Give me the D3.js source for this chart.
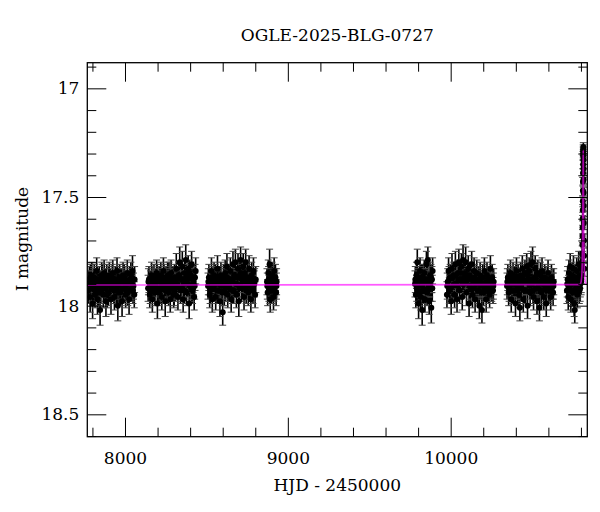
<!DOCTYPE html>
<html lang="en">
<head>
<meta charset="utf-8">
<script src="https://d3js.org/d3.v7.min.js"></script>
<style>
  body { margin: 0; background: #fff; }
  text { font-family: "DejaVu Serif", serif; fill: #000; }
</style>
</head>
<body>
<svg id="chart" width="600" height="512"></svg>
<script>
// photometry, one array per season: [HJD - 2450000, I mag, error]
const season2017 = [[7775,17.93,.06],[7781,17.88,.06],[7786,17.96,.07],[7790,17.90,.06],[7796,17.86,.06],[7801,17.99,.07],[7805,17.92,.06],[7811,17.87,.06],[7816,17.95,.06],[7820,17.89,.06],[7826,17.84,.06],[7831,17.97,.07],[7836,17.91,.06],[7842,17.88,.06],[7847,18.02,.07],[7852,17.93,.06],[7857,17.86,.06],[7862,17.90,.06],[7867,17.95,.06],[7872,17.85,.06],[7878,17.92,.06],[7883,17.98,.07],[7888,17.87,.06],[7893,17.91,.06],[7899,17.94,.06],[7904,17.86,.06],[7909,17.89,.06],[7914,17.97,.07],[7919,17.92,.06],[7925,17.85,.06],[7930,17.90,.06],[7935,17.96,.06],[7940,17.88,.06],[7946,17.93,.06],[7951,17.84,.06],[7956,18.00,.07],[7961,17.91,.06],[7967,17.87,.06],[7972,17.94,.06],[7977,17.89,.06],[7982,17.98,.07],[7988,17.86,.06],[7993,17.92,.06],[7998,17.88,.06],[8004,17.95,.06],[8009,17.90,.06],[8014,17.85,.06],[8020,17.93,.06],[8025,17.97,.07],[8030,17.89,.06],[8036,17.86,.06],[8041,17.92,.06],[8046,17.84,.07],[8052,17.91,.06],[8057,17.95,.06],
  [7778,17.90,.06],[7788,17.87,.06],[7798,17.92,.06],[7808,17.89,.06],[7818,17.93,.06],[7829,17.88,.06],[7839,17.94,.06],[7849,17.90,.06],[7860,17.87,.06],[7870,17.92,.06],[7880,17.89,.06],[7891,17.95,.06],[7901,17.88,.06],[7912,17.91,.06],[7922,17.87,.06],[7932,17.93,.06],[7943,17.90,.06],[7953,17.88,.06],[7964,17.94,.06],[7974,17.89,.06],[7985,17.92,.06],[7995,17.87,.06],[8006,17.91,.06],[8017,17.94,.06],[8028,17.88,.06],[8038,17.90,.06],[8049,17.93,.06],[8059,17.88,.06]]
const season2018 = [[8142,17.92,.06],[8147,17.88,.06],[8152,17.95,.06],[8157,17.90,.06],[8163,17.86,.06],[8168,17.97,.06],[8173,17.91,.06],[8178,17.87,.06],[8184,17.94,.06],[8189,17.89,.06],[8194,17.85,.06],[8199,17.99,.07],[8205,17.92,.06],[8210,17.88,.06],[8215,17.93,.06],[8220,17.86,.06],[8226,17.96,.06],[8231,17.90,.06],[8236,17.84,.06],[8241,17.92,.06],[8247,17.98,.07],[8252,17.88,.06],[8257,17.91,.06],[8262,17.86,.06],[8268,17.94,.06],[8273,17.89,.06],[8278,17.97,.06],[8283,17.85,.06],[8289,17.91,.06],[8294,17.88,.06],[8299,17.95,.06],[8304,17.87,.06],[8310,17.92,.06],[8315,17.83,.07],[8320,17.90,.06],[8325,17.96,.06],[8331,17.86,.06],[8336,17.80,.07],[8341,17.93,.06],[8346,17.88,.06],[8352,17.82,.07],[8357,17.97,.06],[8362,17.90,.06],[8367,17.85,.06],[8373,17.79,.07],[8378,17.94,.06],[8383,17.88,.06],[8388,17.83,.06],[8394,17.99,.07],[8399,17.91,.06],[8404,17.86,.06],[8409,17.81,.06],[8415,17.93,.06],[8420,17.89,.06],[8425,17.96,.06],[8430,17.87,.06],[8434,17.84,.06],
  [8144,17.89,.06],[8155,17.93,.06],[8165,17.88,.06],[8176,17.92,.06],[8186,17.90,.06],[8197,17.87,.06],[8207,17.94,.06],[8218,17.89,.06],[8228,17.91,.06],[8239,17.87,.06],[8249,17.93,.06],[8260,17.90,.06],[8270,17.86,.06],[8281,17.92,.06],[8291,17.89,.06],[8302,17.94,.06],[8312,17.88,.06],[8323,17.91,.06],[8333,17.86,.06],[8344,17.92,.06],[8354,17.88,.06],[8365,17.93,.06],[8375,17.87,.06],[8386,17.90,.06],[8396,17.85,.06],[8407,17.92,.06],[8417,17.88,.06],[8428,17.91,.06]]
const season2019 = [[8510,17.91,.06],[8515,17.87,.06],[8520,17.95,.06],[8526,17.89,.06],[8531,17.84,.06],[8536,17.97,.06],[8541,17.92,.06],[8547,17.86,.06],[8552,17.90,.06],[8557,17.96,.06],[8562,17.88,.06],[8568,17.83,.06],[8573,17.93,.06],[8578,17.89,.06],[8583,17.98,.07],[8589,17.86,.06],[8594,17.91,.06],[8600,18.03,.06],[8605,17.87,.06],[8610,17.94,.06],[8615,17.85,.06],[8621,17.90,.06],[8626,17.82,.06],[8631,17.95,.06],[8636,17.88,.06],[8642,17.92,.06],[8647,17.84,.06],[8652,17.97,.06],[8657,17.89,.06],[8663,17.81,.06],[8668,17.93,.06],[8673,17.87,.06],[8678,17.80,.06],[8684,17.95,.06],[8689,17.90,.06],[8694,17.83,.07],[8699,17.98,.07],[8705,17.86,.06],[8710,17.79,.06],[8715,17.92,.06],[8720,17.88,.06],[8726,17.82,.06],[8731,17.96,.06],[8736,17.85,.06],[8741,17.80,.06],[8747,17.91,.06],[8752,17.87,.06],[8757,17.94,.06],[8762,17.83,.06],[8768,17.89,.06],[8773,17.97,.06],[8778,17.86,.06],[8783,17.92,.06],[8789,17.84,.06],[8794,17.90,.06],[8799,17.95,.06],[8803,17.88,.06],
  [8512,17.89,.06],[8523,17.93,.06],[8533,17.88,.06],[8544,17.91,.06],[8554,17.87,.06],[8565,17.93,.06],[8575,17.90,.06],[8586,17.88,.06],[8597,17.94,.06],[8607,17.89,.06],[8618,17.92,.06],[8628,17.87,.06],[8639,17.91,.06],[8649,17.88,.06],[8660,17.93,.06],[8670,17.86,.06],[8681,17.90,.06],[8691,17.87,.06],[8702,17.92,.06],[8712,17.85,.06],[8723,17.90,.06],[8733,17.87,.06],[8744,17.93,.06],[8754,17.89,.06],[8765,17.91,.06],[8775,17.88,.06],[8786,17.93,.06],[8796,17.89,.06]]
const season2020 = [[8872,17.89,.06],[8876,17.94,.06],[8880,17.85,.06],[8884,17.92,.06],[8888,17.81,.07],[8892,17.97,.06],[8896,17.88,.06],[8900,17.93,.06],[8904,17.86,.06],[8908,17.91,.06],[8912,17.96,.06],[8916,17.84,.06],[8920,17.90,.06],[8924,17.87,.06],[8928,17.94,.06],[8931,17.89,.06],
  [8874,17.91,.06],[8882,17.88,.06],[8890,17.93,.06],[8898,17.90,.06],[8906,17.87,.06],[8914,17.92,.06],[8922,17.89,.06],[8930,17.91,.06]]
const season2022 = [[9781,17.90,.06],[9786,17.95,.06],[9790,17.86,.06],[9795,17.80,.06],[9799,17.93,.06],[9803,17.99,.07],[9808,17.88,.06],[9812,17.84,.06],[9816,17.96,.06],[9821,17.91,.06],[9825,18.02,.07],[9829,17.87,.06],[9834,17.93,.06],[9838,17.85,.06],[9842,17.97,.06],[9847,17.89,.06],[9851,17.81,.06],[9855,17.94,.06],[9860,17.79,.06],[9864,17.90,.06],[9868,17.98,.06],[9873,17.86,.06],[9877,17.92,.06],[9881,18.01,.07],[9885,17.88,.06],[9889,17.84,.06],
  [9783,17.88,.06],[9792,17.92,.06],[9801,17.89,.06],[9810,17.94,.06],[9819,17.87,.06],[9827,17.91,.06],[9836,17.89,.06],[9845,17.93,.06],[9853,17.88,.06],[9862,17.92,.06],[9871,17.90,.06],[9879,17.87,.06],[9887,17.92,.06]]
const season2023 = [[9977,17.95,.06],[9982,17.89,.06],[9987,17.84,.06],[9992,17.93,.06],[9997,17.87,.06],[10003,17.98,.06],[10008,17.83,.07],[10013,17.91,.06],[10018,17.86,.06],[10024,17.95,.06],[10029,17.81,.06],[10034,17.90,.06],[10039,17.97,.06],[10045,17.85,.06],[10050,17.80,.06],[10055,17.93,.06],[10060,17.88,.06],[10066,17.82,.06],[10071,17.96,.06],[10076,17.79,.07],[10081,17.90,.06],[10087,17.85,.06],[10092,17.80,.07],[10097,17.94,.06],[10102,17.88,.06],[10108,17.83,.06],[10113,17.99,.06],[10118,17.86,.06],[10123,17.92,.06],[10129,17.81,.06],[10134,17.95,.06],[10139,17.89,.06],[10144,17.84,.06],[10150,17.97,.06],[10155,17.90,.06],[10160,17.85,.06],[10165,17.93,.06],[10171,17.88,.06],[10176,18.00,.06],[10181,17.86,.06],[10186,17.91,.06],[10192,18.02,.06],[10197,17.87,.06],[10202,17.94,.06],[10207,17.84,.06],[10213,17.90,.06],[10218,17.97,.06],[10223,17.86,.06],[10228,17.92,.06],[10234,17.88,.06],[10239,17.95,.06],[10244,17.83,.06],[10249,17.91,.06],[10255,17.87,.06],[10260,17.93,.06],[10264,17.89,.06],
  [9979,17.91,.06],[9990,17.88,.06],[10000,17.92,.06],[10011,17.87,.06],[10021,17.90,.06],[10032,17.86,.06],[10042,17.91,.06],[10053,17.88,.06],[10063,17.85,.06],[10074,17.90,.06],[10084,17.87,.06],[10095,17.89,.06],[10105,17.86,.06],[10116,17.91,.06],[10126,17.88,.06],[10137,17.92,.06],[10147,17.87,.06],[10158,17.90,.06],[10168,17.93,.06],[10179,17.89,.06],[10189,17.94,.06],[10200,17.90,.06],[10210,17.92,.06],[10221,17.89,.06],[10231,17.93,.06],[10242,17.90,.06],[10252,17.92,.06],[10262,17.91,.06]]
const season2024 = [[10346,17.91,.06],[10351,17.87,.06],[10356,17.94,.06],[10362,17.89,.06],[10367,17.85,.06],[10372,17.97,.06],[10377,17.90,.06],[10383,17.86,.06],[10388,17.93,.06],[10393,17.88,.06],[10398,17.99,.06],[10404,17.84,.06],[10409,17.91,.06],[10414,17.87,.06],[10419,17.95,.06],[10425,18.01,.06],[10430,17.86,.06],[10435,17.92,.06],[10440,17.83,.06],[10446,17.97,.06],[10451,17.89,.06],[10456,17.85,.06],[10461,17.93,.06],[10467,17.82,.06],[10472,18.00,.06],[10477,17.88,.06],[10482,17.84,.06],[10488,17.94,.06],[10493,17.81,.06],[10498,17.90,.06],[10503,17.80,.07],[10509,17.96,.06],[10514,17.87,.06],[10519,17.83,.06],[10524,17.92,.06],[10530,17.98,.06],[10535,17.85,.06],[10540,17.90,.06],[10545,18.01,.06],[10551,17.86,.06],[10556,17.93,.06],[10561,17.84,.06],[10566,17.89,.06],[10572,17.96,.06],[10577,17.87,.06],[10582,17.92,.06],[10587,17.99,.06],[10593,17.88,.06],[10598,17.85,.06],[10603,17.93,.06],[10608,17.90,.06],[10614,17.96,.06],[10619,17.87,.06],[10624,17.91,.06],[10629,17.94,.06],[10633,17.89,.06],
  [10348,17.89,.06],[10359,17.92,.06],[10369,17.88,.06],[10380,17.93,.06],[10390,17.90,.06],[10401,17.87,.06],[10411,17.93,.06],[10422,17.89,.06],[10432,17.91,.06],[10443,17.87,.06],[10453,17.93,.06],[10464,17.89,.06],[10474,17.86,.06],[10485,17.91,.06],[10495,17.88,.06],[10506,17.93,.06],[10516,17.89,.06],[10527,17.86,.06],[10537,17.92,.06],[10548,17.89,.06],[10558,17.94,.06],[10569,17.90,.06],[10579,17.88,.06],[10590,17.93,.06],[10600,17.90,.06],[10611,17.92,.06],[10621,17.89,.06],[10631,17.91,.06]]
const season2025 = [[10714,17.93,.06],[10718,17.88,.06],[10722,17.96,.06],[10726,17.85,.06],[10730,17.91,.06],[10734,17.82,.06],[10738,17.97,.06],[10742,17.89,.06],[10746,17.86,.06],[10750,17.94,.06],[10754,17.83,.06],[10758,17.99,.06],[10762,18.02,.06],[10766,17.87,.06],[10770,17.92,.06],[10774,17.84,.06],[10778,17.95,.06],[10782,17.88,.06],[10786,17.81,.06],[10790,17.93,.06],[10793,17.86,.06],[10796,17.90,.06],[10799,17.83,.06],[10802,17.88,.06],
  [10716,17.90,.06],[10724,17.92,.06],[10732,17.88,.06],[10740,17.93,.06],[10748,17.90,.06],[10756,17.87,.06],[10764,17.93,.06],[10772,17.89,.06],[10780,17.91,.06],[10788,17.87,.06],[10795,17.92,.06],[10801,17.89,.06]]
const eventPoints = [[10805,17.86,.04],[10806,17.82,.04],[10807,17.80,.035],[10808,17.76,.035],[10809,17.72,.03],[10809.5,17.68,.03],[10810,17.64,.03],[10810.5,17.60,.03],[10811,17.56,.025],[10811.5,17.52,.025],[10812,17.47,.025],[10812.4,17.43,.02],[10812.8,17.39,.02],[10813.2,17.35,.02],[10813.5,17.31,.02],[10813.8,17.29,.02],[10814,17.28,.02],[10814.3,17.30,.02],[10814.6,17.27,.02],[10815,17.33,.02],[10815.4,17.37,.02],[10815.8,17.42,.02],[10816.3,17.48,.025],[10816.8,17.54,.025],[10817.4,17.62,.03],[10818.2,17.70,.03],[10819,17.77,.035],[10820.5,17.83,.035]]

// microlensing model: [HJD - 2450000, I mag]
const modelCurve = [[7768,17.905],[10790,17.903],[10798,17.898],[10803,17.88],[10806,17.85],[10808,17.80],[10810,17.70],[10811.5,17.58],[10812.5,17.45],[10813.3,17.34],[10814,17.285],[10814.7,17.34],[10815.5,17.45],[10816.5,17.58],[10818,17.70],[10820,17.80],[10822,17.85],[10825,17.88],[10830,17.898],[10839,17.903]]

const xMajorTicks = [8000, 9000, 10000]
const xMinorTicks = [7800, 8200, 8400, 8600, 8800, 9200, 9400, 9600, 9800, 10200, 10400, 10600, 10800]
const yMajorTicks = [17, 17.5, 18, 18.5]
const yMinorTicks = [16.9, 17.1, 17.2, 17.3, 17.4, 17.6, 17.7, 17.8, 17.9, 18.1, 18.2, 18.3, 18.4, 18.6]

const titleText = "OGLE-2025-BLG-0727"
const xTitle = "HJD - 2450000"
const yTitle = "I magnitude"

const allPoints = [].concat(season2017, season2018, season2019, season2020,
  season2022, season2023, season2024, season2025, eventPoints)

const plotLeft = 87.3, plotRight = 587.3, plotTop = 62.7, plotBottom = 436.7
const svg = d3.select("#chart")

const x = d3.scaleLinear().domain([7768.5, 10839]).range([plotLeft, plotRight])
const y = d3.scaleLinear().domain([16.882, 18.603]).range([plotTop, plotBottom])

svg.append("defs").append("clipPath").attr("id", "clip")
  .append("rect").attr("x", plotLeft).attr("y", plotTop)
  .attr("width", plotRight - plotLeft).attr("height", plotBottom - plotTop)

const plot = svg.append("g").attr("clip-path", "url(#clip)")

// error bars with caps
const bars = plot.append("g").attr("stroke", "#000")
bars.selectAll(".eb").data(allPoints).enter().append("line")
  .attr("stroke-width", 1.6)
  .attr("x1", d => x(d[0])).attr("x2", d => x(d[0]))
  .attr("y1", d => y(d[1] - d[2])).attr("y2", d => y(d[1] + d[2]))
bars.selectAll(".capTop").data(allPoints).enter().append("line")
  .attr("stroke-width", 1).attr("stroke", "#444")
  .attr("x1", d => x(d[0]) - 3.5).attr("x2", d => x(d[0]) + 3.5)
  .attr("y1", d => y(d[1] - d[2])).attr("y2", d => y(d[1] - d[2]))
bars.selectAll(".capBot").data(allPoints).enter().append("line")
  .attr("stroke-width", 1).attr("stroke", "#444")
  .attr("x1", d => x(d[0]) - 3.5).attr("x2", d => x(d[0]) + 3.5)
  .attr("y1", d => y(d[1] + d[2])).attr("y2", d => y(d[1] + d[2]))

// points
plot.append("g").selectAll("circle").data(allPoints).enter().append("circle")
  .attr("cx", d => x(d[0])).attr("cy", d => y(d[1])).attr("r", 3).attr("fill", "#000")

// model
const lineMaker = d3.line().x(d => x(d[0])).y(d => y(d[1])).curve(d3.curveMonotoneX)
plot.append("path").attr("d", lineMaker(modelCurve))
  .attr("fill", "none").attr("stroke", "#ff00ff").attr("stroke-width", 1.6).attr("stroke-opacity", 0.65)

// axes: ticks point inward on all four sides
function styleAxis(g) {
  g.select(".domain").remove()
  g.selectAll(".tick line").attr("stroke", "#000").attr("stroke-width", 1)
  g.selectAll("text").style("font-family", "'DejaVu Serif', serif").style("font-size", "17px").attr("fill", "#000")
}
const noLabel = () => ""

svg.append("g").attr("transform", `translate(0,${plotBottom})`)
  .call(d3.axisBottom(x).tickValues(xMajorTicks).tickSize(-19).tickPadding(15).tickFormat(d3.format("d")))
  .call(styleAxis)
svg.append("g").attr("transform", `translate(0,${plotBottom})`)
  .call(d3.axisBottom(x).tickValues(xMinorTicks).tickSize(-9).tickFormat(noLabel)).call(styleAxis)
svg.append("g").attr("transform", `translate(0,${plotTop})`)
  .call(d3.axisTop(x).tickValues(xMajorTicks).tickSize(-19).tickFormat(noLabel)).call(styleAxis)
svg.append("g").attr("transform", `translate(0,${plotTop})`)
  .call(d3.axisTop(x).tickValues(xMinorTicks).tickSize(-9).tickFormat(noLabel)).call(styleAxis)

svg.append("g").attr("transform", `translate(${plotLeft},0)`)
  .call(d3.axisLeft(y).tickValues(yMajorTicks).tickSize(-19).tickPadding(8).tickFormat(d3.format("")))
  .call(styleAxis)
svg.append("g").attr("transform", `translate(${plotLeft},0)`)
  .call(d3.axisLeft(y).tickValues(yMinorTicks).tickSize(-9).tickFormat(noLabel)).call(styleAxis)
svg.append("g").attr("transform", `translate(${plotRight},0)`)
  .call(d3.axisRight(y).tickValues(yMajorTicks).tickSize(-19).tickFormat(noLabel)).call(styleAxis)
svg.append("g").attr("transform", `translate(${plotRight},0)`)
  .call(d3.axisRight(y).tickValues(yMinorTicks).tickSize(-9).tickFormat(noLabel)).call(styleAxis)

// frame
svg.append("rect").attr("x", plotLeft).attr("y", plotTop)
  .attr("width", plotRight - plotLeft).attr("height", plotBottom - plotTop)
  .attr("fill", "none").attr("stroke", "#000").attr("stroke-width", 1.3)

// titles
svg.append("text").attr("x", (plotLeft + plotRight) / 2).attr("y", 41)
  .attr("text-anchor", "middle").style("font-size", "17px").text(titleText)
svg.append("text").attr("x", (plotLeft + plotRight) / 2).attr("y", 491)
  .attr("text-anchor", "middle").style("font-size", "17px").text(xTitle)
svg.append("text").attr("transform", "translate(28,239) rotate(-90)")
  .attr("text-anchor", "middle").style("font-size", "17px").text(yTitle)
</script>
</body>
</html>
